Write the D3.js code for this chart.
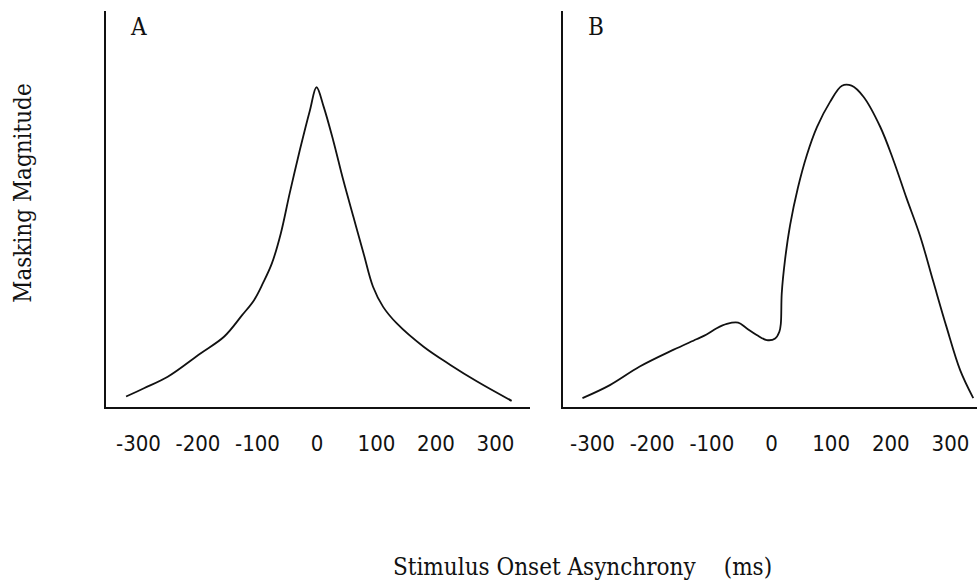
<!DOCTYPE html>
<html>
<head>
<meta charset="utf-8">
<script src="https://cdn.jsdelivr.net/npm/d3@7"></script>
<style>
  html, body { margin: 0; padding: 0; background: #fff; }
  svg { display: block; }
  .serif { font-family: "DejaVu Serif Condensed", "DejaVu Serif", serif; font-stretch: condensed; fill: #111; }
  .tick text { font-family: "DejaVu Sans Condensed", "DejaVu Sans", sans-serif; font-stretch: condensed; fill: #111; }
</style>
</head>
<body>
<div class="chart"></div>
<script>
// tick labels shared by both panels (SOA in ms)
const soaTicks = [-300, -200, -100, 0, 100, 200, 300];

// panel A: type A masking, peaks at SOA 0
const soaA = [-320, -290, -250, -195, -155, -125, -105, -90, -75, -60, -45, -28, -11, 0,
              12, 28, 45, 62, 79, 95, 112, 135, 180, 225, 270, 328];
const magA = [2.9, 5, 7.9, 13.8, 18.1, 23.5, 27.3, 31.6, 36.6, 44.2, 54.4, 65.3, 75.4, 81.2,
              76.3, 67.8, 57.7, 48.4, 39.2, 30.7, 25.6, 21.4, 15.5, 10.9, 6.7, 1.8];

// panel B: type B masking, small bump at negative SOA then large peak near +125
const soaB = [-316, -270, -220, -164, -125, -108, -91, -74, -55, -41, -24, -7, 7, 14, 16.5, 18,
              23.5, 32, 45, 60, 77, 99, 119, 135, 155, 183, 205, 227, 250, 272, 294, 317, 339];
const magB = [2.5, 5.8, 10.5, 14.7, 17.4, 18.6, 20.2, 21.3, 21.6, 20.2, 18.5, 17.2, 17.6, 19.3, 21.4, 29,
              37.5, 46.3, 55.7, 64, 71.1, 77.5, 81.6, 81.6, 78.8, 71.2, 62.8, 53.2, 43.5, 32, 20.6, 9.6, 2.5];

const panels = [
    { label: "A", soa: soaA, mag: magA, left: 105, right: 530, x0: 138, x1: 495 },
    { label: "B", soa: soaB, mag: magB, left: 562, right: 978, x0: 592, x1: 950 }
];

const width = 977;
const height = 580;
const axisY = 408;
const axisTop = 11;

const svg = d3.select(".chart")
    .append("svg")
    .attr("width", width)
    .attr("height", height);

const y = d3.scaleLinear()
    .domain([0, 100])
    .range([axisY, 13]);

panels.forEach(p => {
    const x = d3.scaleLinear()
        .domain([soaTicks[0], soaTicks[soaTicks.length - 1]])
        .range([p.x0, p.x1]);

    const g = svg.append("g");

    // axes lines (the figure has no tick marks)
    g.append("line")
        .attr("x1", p.left).attr("x2", p.left)
        .attr("y1", axisTop).attr("y2", axisY + 1)
        .attr("stroke", "#111")
        .attr("stroke-width", 2);

    g.append("line")
        .attr("x1", p.left - 1).attr("x2", p.right)
        .attr("y1", axisY).attr("y2", axisY)
        .attr("stroke", "#111")
        .attr("stroke-width", 2.2);

    const ax = g.append("g")
        .attr("transform", `translate(0,${axisY})`)
        .call(d3.axisBottom(x).tickValues(soaTicks).tickSize(0).tickFormat(d3.format("d")));
    ax.select(".domain").remove();
    ax.selectAll(".tick text")
        .attr("y", 43)
        .attr("dy", 0)
        .attr("font-size", 22)
        .text(d => d < 0 ? "-" + Math.abs(d) : d);

    const line = d3.line()
        .x((d, i) => x(p.soa[i]))
        .y(d => y(d))
        .curve(d3.curveCatmullRom.alpha(0.5));

    g.append("path")
        .datum(p.mag)
        .attr("fill", "none")
        .attr("stroke", "#111")
        .attr("stroke-width", 1.8)
        .attr("stroke-linejoin", "round")
        .attr("d", line);

    g.append("text")
        .attr("class", "serif")
        .attr("x", p.left + 26)
        .attr("y", 35)
        .attr("font-size", 24)
        .text(p.label);
});

// y axis title
svg.append("text")
    .attr("class", "serif")
    .attr("transform", "translate(31,193) rotate(-90)")
    .attr("text-anchor", "middle")
    .attr("font-size", 24)
    .text("Masking Magnitude");

// x axis title
const xt = svg.append("text")
    .attr("class", "serif")
    .attr("x", 393)
    .attr("y", 575)
    .attr("font-size", 24)
    .text("Stimulus Onset Asynchrony");
xt.append("tspan")
    .attr("dx", 28)
    .text("(ms)");
</script>
</body>
</html>
